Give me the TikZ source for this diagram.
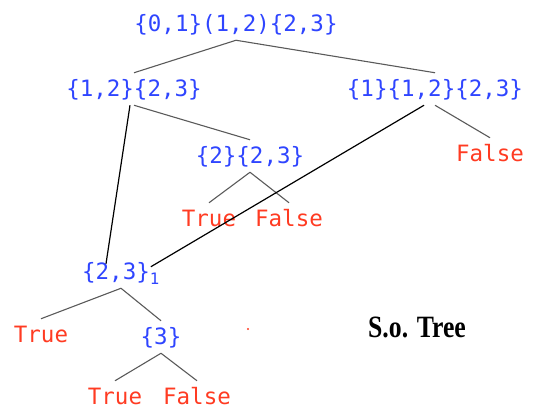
\documentclass[tikz,border=0pt]{standalone}
\usepackage{fontspec}
\usetikzlibrary{positioning,calc}
\newfontfamily\treefont{DejaVu Sans Mono}
\newfontfamily\capfont{Liberation Serif}
\definecolor{setblue}{HTML}{2F45FF}
\definecolor{leafred}{HTML}{FF3B22}
\definecolor{edgegray}{HTML}{5A5A5A}

\begin{document}
\begin{tikzpicture}[x=1pt, y=-1pt,
  lbl/.style={inner sep=0pt, outer sep=5pt, text height=19pt, text depth=3.5pt, font=\treefont\fontsize{22.5}{24}\selectfont},
  set/.style={lbl, text=setblue},
  leaf/.style={lbl, text=leafred},
  edge/.style={draw=edgegray, line width=1.1pt},
  cross/.style={draw=black, line width=1.2pt}]
\useasboundingbox (0,0) rectangle (538,410);

\node[set] (root) at (236,24) {\{0,1\}(1,2)\{2,3\}};
\node[set] (left) at (134,89) {\{1,2\}\{2,3\}};
\node[set] (right) at (435,89) {\{1\}\{1,2\}\{2,3\}};
\node[set] (mid) at (250,156) {\{2\}\{2,3\}};
\node[leaf] (rfalse) at (490,154) {False};
\node[leaf] (mtrue) at (209,219) {True};
\node[leaf] (mfalse) at (289,219) {False};
\node[set] (low) at (121,272) {\{2,3\}\textsubscript{1}};
\node[leaf] (ltrue) at (41,335) {True};
\node[set] (three) at (161,337) {\{3\}};
\node[leaf] (ttrue) at (115,397) {True};
\node[leaf] (tfalse) at (197,397) {False};

\node[font=\capfont\bfseries\fontsize{31}{31}\selectfont] (title) at (417,327) {\scalebox{0.83}[1]{S.o. Tree}};
\fill[leafred] (248,329) circle (1.2pt);

\draw[edge] (root.south) -- (left.north);
\draw[edge] (root.south) -- (right.north);
\draw[edge] (left.south) -- (mid.north);
\draw[edge] (right.south) -- (rfalse.north);
\draw[edge] (mid.south) -- (mtrue.north);
\draw[edge] (mid.south) -- (mfalse.north);
\draw[edge] (low.south) -- (ltrue.north);
\draw[edge] (low.south) -- (three.north);
\draw[edge] (three.south) -- (ttrue.north);
\draw[edge] (three.south) -- (tfalse.north);

% links into the shared subtree
\draw[cross] ($(left.south)+(-4,0)$) -- ($(low.north)+(-15,8)$);
\draw[cross] ($(right.south)+(-11,0)$) -- ($(low.north east)+(-14,11)$);
\end{tikzpicture}
\end{document}
